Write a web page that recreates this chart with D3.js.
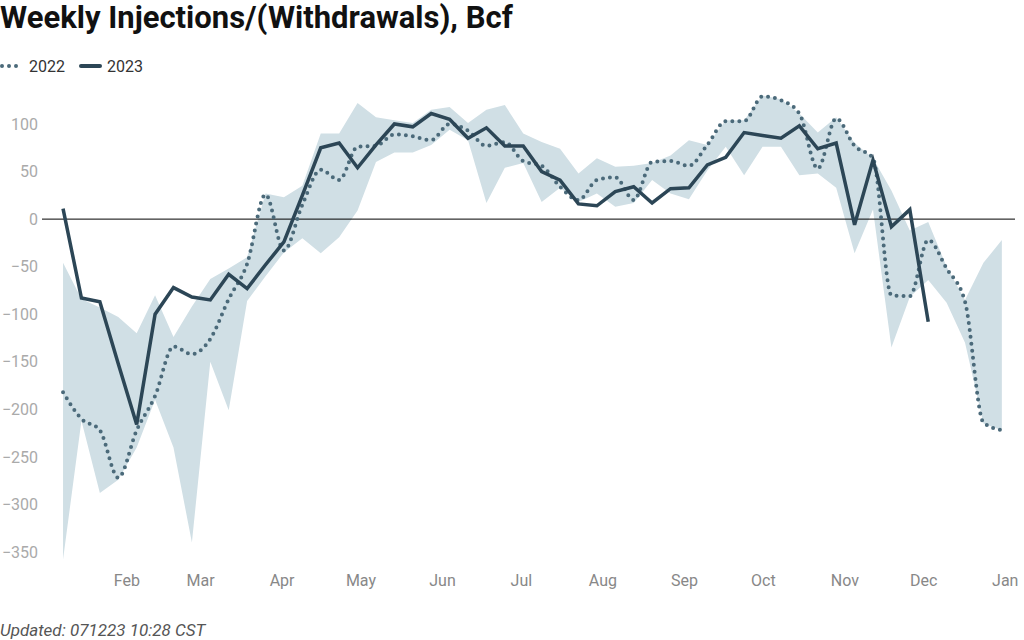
<!DOCTYPE html>
<html>
<head>
<meta charset="utf-8">
<script src="https://cdn.jsdelivr.net/npm/d3@7"></script>
<style>
  body { margin: 0; background: #fff; font-family: Roboto, "Noto Sans", sans-serif; }
</style>
</head>
<body>
<div id="chart"></div>
<script>
// week-ending date of the first weekly report, one point per week after it
var firstWeek = new Date(2023, 0, 6);

var yTicks = [-350, -300, -250, -200, -150, -100, -50, 0, 50, 100];

// 2022 weekly injections/(withdrawals), Bcf
var y2022 = [-182, -210, -222, -272, -222, -186, -134, -142, -126, -84,
             -47, 26, -33, 15, 52, 41, 76, 77, 89, 87,
             83, 100, 93, 77, 81, 61, 56, 34, 20, 41,
             44, 20, 60, 61, 56, 78, 103, 103, 129, 125,
             111, 53, 106, 77, 64, -80, -81, -22, -52, -87,
             -214, -222];

// 2023 weekly injections/(withdrawals), Bcf
var y2023 = [11, -83, -87, -152, -216, -100, -72, -82, -85, -58,
             -73, -48, -24, 25, 75, 80, 54, 78, 100, 97,
             111, 105, 85, 96, 77, 77, 50, 41, 16, 14,
             29, 34, 17, 32, 33, 57, 65, 91, 88, 85,
             98, 74, 80, -6, 62, -8, 10, -108];

// five-year range, max and min
var bandHigh = [-46, -84, -93, -103, -120, -80, -124, -92, -63, -52,
                -40, 27, 23, 35, 90, 90, 122, 107, 104, 101,
                115, 118, 101, 115, 120, 90, 81, 74, 48, 64,
                55, 56, 59, 67, 83, 78, 104, 104, 130, 126,
                111, 91, 107, 80, 64, 30, -12, -3, -50, -85,
                -46, -22];
var bandLow = [-358, -212, -288, -274, -240, -190, -240, -340, -150, -201,
               -86, -60, -35, -20, -36, -19, 9, 60, 70, 70,
               78, 94, 83, 17, 54, 59, 18, 33, 18, 27,
               13, 17, 41, 27, 21, 51, 76, 46, 76, 76,
               46, 48, 33, -36, 10, -135, -82, -64, -88, -130,
               -215, -222];

var width = 1024, height = 640;
var lineColor = "#2c4656", dotColor = "#4b6a7a", bandColor = "#d0dfe5";

function weekDate(i) { return d3.timeDay.offset(firstWeek, 7 * i); }

var x = d3.scaleTime()
    .domain([new Date(2022, 11, 29), new Date(2024, 0, 3)])
    .range([42, 1015]);

var y = d3.scaleLinear()
    .domain([-350, 100])
    .range([552, 124]);

var svg = d3.select("#chart").append("svg")
    .attr("width", width)
    .attr("height", height);

svg.append("text")
    .attr("x", 0).attr("y", 28)
    .style("font-size", "31px").style("font-weight", "bold")
    .attr("fill", "#111")
    .text("Weekly Injections/(Withdrawals), Bcf");

// legend
var legend = svg.append("g").attr("transform", "translate(0,66)");
legend.append("line")
    .attr("x1", 2).attr("x2", 18)
    .attr("stroke", dotColor).attr("stroke-width", 4)
    .attr("stroke-linecap", "round").attr("stroke-dasharray", "0,7");
legend.append("text").attr("x", 29).attr("dy", "0.35em")
    .style("font-size", "16px").attr("fill", "#333").text("2022");
legend.append("line")
    .attr("x1", 81).attr("x2", 100)
    .attr("stroke", lineColor).attr("stroke-width", 4)
    .attr("stroke-linecap", "round");
legend.append("text").attr("x", 107).attr("dy", "0.35em")
    .style("font-size", "16px").attr("fill", "#333").text("2023");

// y axis labels
var yAxis = svg.append("g")
    .attr("transform", "translate(38,0)")
    .call(d3.axisLeft(y).tickValues(yTicks).tickSize(0).tickPadding(0));
yAxis.select(".domain").remove();
yAxis.selectAll("text")
    .style("font-size", "16px").style("font-family", "Roboto")
    .attr("fill", "#aaa");

// x axis labels
var xAxis = svg.append("g")
    .attr("transform", "translate(0,575)")
    .call(d3.axisBottom(x)
      .tickValues(d3.timeMonth.range(new Date(2023, 1, 1), new Date(2024, 0, 2)))
      .tickFormat(d3.timeFormat("%b"))
      .tickSize(0).tickPadding(0));
xAxis.select(".domain").remove();
xAxis.selectAll("text")
    .attr("dx", "-5")
    .style("font-size", "16px").style("font-family", "Roboto")
    .attr("fill", "#888");

// range band
var area = d3.area()
    .x(function(d, i) { return x(weekDate(i)); })
    .y0(function(d, i) { return y(bandLow[i]); })
    .y1(function(d, i) { return y(bandHigh[i]); });

svg.append("path")
    .datum(bandHigh)
    .attr("d", area)
    .attr("fill", bandColor);

// zero line
svg.append("line")
    .attr("x1", x.range()[0]).attr("x2", x.range()[1])
    .attr("y1", y(0)).attr("y2", y(0))
    .attr("stroke", "#000").attr("stroke-width", 1);

var line = d3.line()
    .x(function(d, i) { return x(weekDate(i)); })
    .y(function(d) { return y(d); });

svg.append("path")
    .datum(y2022)
    .attr("d", line.curve(d3.curveMonotoneX))
    .attr("fill", "none")
    .attr("stroke", dotColor)
    .attr("stroke-width", 4)
    .attr("stroke-linecap", "round")
    .attr("stroke-dasharray", "0,7");

svg.append("path")
    .datum(y2023)
    .attr("d", line.curve(d3.curveLinear))
    .attr("fill", "none")
    .attr("stroke", lineColor)
    .attr("stroke-width", 3.5);

svg.append("text")
    .attr("x", 0).attr("y", 636)
    .style("font-size", "17px").style("font-style", "italic")
    .attr("fill", "#555")
    .text("Updated: 071223 10:28 CST");
</script>
</body>
</html>
